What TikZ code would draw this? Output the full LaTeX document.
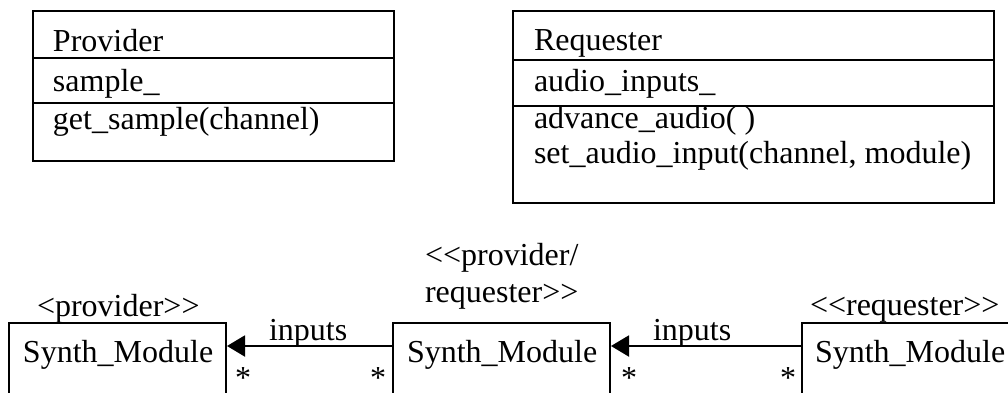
\documentclass[tikz,border=0pt]{standalone}
\usepackage{fontspec}
\setmainfont{Liberation Serif}[Ligatures=TeXOff]
\usetikzlibrary{arrows.meta,calc}
\begin{document}
\begin{tikzpicture}[x=0.5pt,y=-0.5pt,line width=1pt,
  txt/.style={font=\fontsize{16}{18.5}\selectfont,inner sep=0pt,anchor=base west},
  mult/.style={font=\fontsize{16}{18.5}\selectfont,inner sep=0pt,anchor=base},
  classbox/.style={draw,inner sep=0pt,anchor=north west},
  assoc/.style={-{Triangle[length=9pt,width=10.5pt]}}]
\useasboundingbox (0,0) rectangle (1008,392);
\clip (0,0) rectangle (1008,392);

% Provider class
\node[classbox,minimum width=180.5pt,minimum height=75pt] (prov) at (32,10) {};
\draw ($(prov.north west)+(0,48)$) -- ($(prov.north east)+(0,48)$);
\draw ($(prov.north west)+(0,93)$) -- ($(prov.north east)+(0,93)$);
\node[txt] (provname) at (52,51) {Provider};
\node[txt] (provattr) at (52,91) {sample\_};
\node[txt] (provop) at (52,129) {get\_sample(channel)};

% Requester class
\node[classbox,minimum width=240.5pt,minimum height=96pt] (req) at (512,10) {};
\draw ($(req.north west)+(0,50)$) -- ($(req.north east)+(0,50)$);
\draw ($(req.north west)+(0,96)$) -- ($(req.north east)+(0,96)$);
\node[txt] (reqname) at (533,50) {Requester};
\node[txt] (reqattr) at (533,91) {audio\_inputs\_};
\node[txt] (reqopa) at (533,128) {advance\_audio( )};
\node[txt] (reqopb) at (533,163) {set\_audio\_input(channel, module)};

% Module chain
\node[classbox,minimum width=108.5pt,minimum height=44pt] (m1) at (8,322) {};
\node[classbox,minimum width=108.5pt,minimum height=44pt] (m2) at (392,322) {};
\node[classbox,minimum width=114.5pt,minimum height=44pt] (m3) at (801,322) {};
\node[txt] (m1name) at (22,362) {Synth\_Module};
\node[txt] (m2name) at (406,362) {Synth\_Module};
\node[txt] (m3name) at (814,362) {Synth\_Module};

% Stereotypes
\node[txt] (st1) at (36,316) {<provider>>};
\node[txt] (st2a) at (424,265) {<<provider/};
\node[txt] (st2b) at (424,302) {requester>>};
\node[txt] (st3) at (809,315) {<<requester>>};

% Associations
\draw[assoc] ($(m2.north west)+(0,24)$) -- ($(m1.north east)+(0,24)$);
\draw[assoc] ($(m3.north west)+(0,24)$) -- ($(m2.north east)+(0,24)$);
\node[txt] (lab1) at (268,340) {inputs};
\node[txt] (lab2) at (652,340) {inputs};

% Multiplicities
\node[mult] (s1) at (243,388) {*};
\node[mult] (s2) at (378,388) {*};
\node[mult] (s3) at (629,388) {*};
\node[mult] (s4) at (788,388) {*};
\end{tikzpicture}
\end{document}
